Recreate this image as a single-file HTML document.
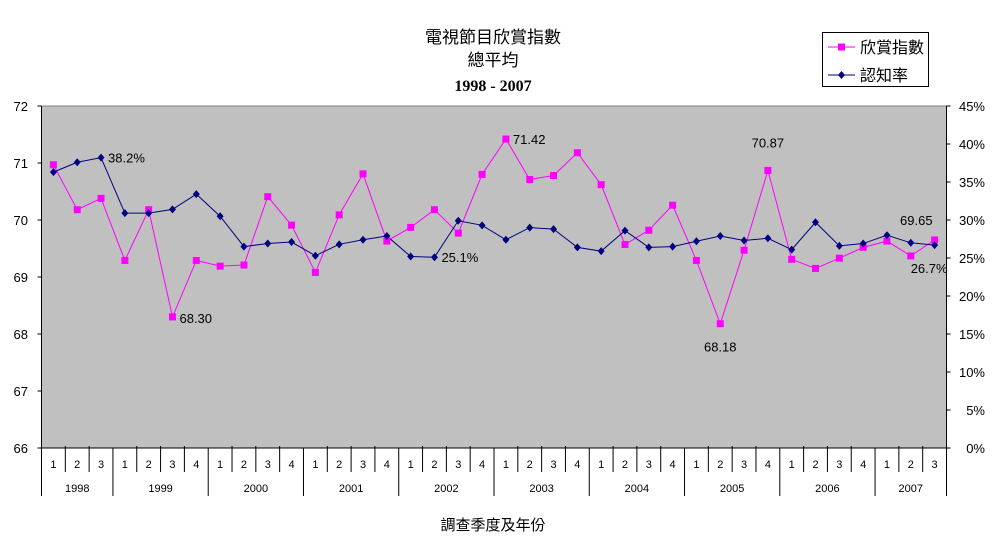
<!DOCTYPE html>
<html><head><meta charset="utf-8"><style>
body{margin:0;background:#fff;}
svg text{font-family:"Liberation Sans","Noto Sans CJK TC",sans-serif;}
</style></head><body>
<svg id="chart" width="993" height="553" xmlns="http://www.w3.org/2000/svg">
<text x="493" y="43" text-anchor="middle" font-size="17">電視節目欣賞指數</text>
<text x="493" y="66" text-anchor="middle" font-size="17">總平均</text>
<text x="493" y="91" text-anchor="middle" font-size="16" font-weight="bold" style="font-family:'Liberation Serif',serif">1998 - 2007</text>
<rect x="41.5" y="106" width="905" height="342" fill="#c0c0c0" stroke="#808080"/>
<g id="axes"></g>
<g id="series"></g>
<g>
<rect x="822.5" y="32.5" width="106" height="54" fill="#fff" stroke="#000"/>
<line x1="828" y1="47" x2="855" y2="47" stroke="#ff00ff"/><rect x="838" y="43.5" width="7" height="7" fill="#ff00ff"/>
<text x="860" y="53" font-size="16">欣賞指數</text>
<line x1="828" y1="75" x2="855" y2="75" stroke="#000080"/><path d="M841.5 71 L845 75 L841.5 79 L838 75Z" fill="#000080"/>
<text x="860" y="81" font-size="16">認知率</text>
</g>
<text x="493" y="530" text-anchor="middle" font-size="15">調查季度及年份</text>
</svg>
<script>
const years = ["1998","1999","2000","2001","2002","2003","2004","2005","2006","2007"];
const quartersPerYear = [3,4,4,4,4,4,4,4,4,3];
const appreciation = [70.97,70.18,70.38,69.29,70.18,68.30,69.29,69.19,69.21,70.41,69.91,69.08,70.09,70.81,69.63,69.87,70.18,69.77,70.80,71.42,70.71,70.78,71.18,70.62,69.57,69.82,70.26,69.29,68.18,69.47,70.87,69.31,69.15,69.33,69.52,69.63,69.37,69.65];
const awareness = [36.3,37.6,38.2,30.9,30.9,31.4,33.4,30.5,26.5,26.9,27.1,25.3,26.8,27.4,27.9,25.2,25.1,29.9,29.3,27.4,29.0,28.8,26.4,25.9,28.6,26.4,26.5,27.2,27.9,27.3,27.6,26.1,29.7,26.6,26.9,28.0,27.0,26.7];
const leftTicks = [66,67,68,69,70,71,72];
const rightTicks = [0,5,10,15,20,25,30,35,40,45];
const appLabels = {5:"68.30",19:"71.42",28:"68.18",30:"70.87",37:"69.65"};
const awLabels = {2:"38.2%",16:"25.1%",37:"26.7%"};

const NS="http://www.w3.org/2000/svg";
const L=41.5,R=946.5,T=106,B=448;
const n=appreciation.length, cw=(R-L)/n;
const xs=i=>L+cw*(i+0.5);
const yL=v=>B-(v-66)/6*(B-T);
const yR=v=>B-v/45*(B-T);
function mk(tag,attrs,parent){const e=document.createElementNS(NS,tag);for(const k in attrs)e.setAttribute(k,attrs[k]);parent.appendChild(e);return e;}
const ax=document.getElementById('axes'), se=document.getElementById('series');
leftTicks.forEach(v=>{const y=yL(v);
 mk('line',{x1:L-4,y1:y,x2:L,y2:y,stroke:'#000'},ax);
 const t=mk('text',{x:28,y:y+5,'text-anchor':'end','font-size':13},ax);t.textContent=v;
 
 });
rightTicks.forEach(v=>{const y=yR(v);
 mk('line',{x1:R,y1:y,x2:R+4,y2:y,stroke:'#000'},ax);
 const t=mk('text',{x:985,y:y+5,'text-anchor':'end','font-size':13},ax);t.textContent=v+'%';
 
 });
let idx=0;
years.forEach((yr,k)=>{const q=quartersPerYear[k];const x0=L+cw*idx;
 mk('line',{x1:x0,y1:B,x2:x0,y2:496,stroke:'#000'},ax);
 for(let j=0;j<q;j++){const xq=L+cw*(idx+j);
  if(j>0)mk('line',{x1:xq,y1:B-2,x2:xq,y2:472,stroke:'#000'},ax);
  const t=mk('text',{x:xq+cw/2,y:468,'text-anchor':'middle','font-size':11},ax);t.textContent=j+1;
  
  }
 const t=mk('text',{x:x0+cw*q/2,y:492,'text-anchor':'middle','font-size':11},ax);t.textContent=yr;
 
 
 idx+=q;});
mk('line',{x1:R,y1:B,x2:R,y2:496,stroke:'#000'},ax);
mk('line',{x1:L,y1:T,x2:L,y2:B,stroke:'#000'},ax);
mk('line',{x1:R,y1:T,x2:R,y2:B,stroke:'#000'},ax);
mk('line',{x1:L,y1:B,x2:R,y2:B,stroke:'#000'},ax);
const p1=mk('polyline',{points:appreciation.map((v,i)=>xs(i)+','+yL(v)).join(' '),fill:'none',stroke:'#ff00ff'},se);


const p2=mk('polyline',{points:awareness.map((v,i)=>xs(i)+','+yR(v)).join(' '),fill:'none',stroke:'#000080'},se);


appreciation.forEach((v,i)=>{const m=mk('rect',{x:xs(i)-3.5,y:yL(v)-3.5,width:7,height:7,fill:'#ff00ff'},se);
 
 });
awareness.forEach((v,i)=>{const x=xs(i),y=yR(v);const m=mk('path',{d:`M${x} ${y-4}L${x+3.5} ${y}L${x} ${y+4}L${x-3.5} ${y}Z`,fill:'#000080'},se);
 
 });
for(const i in appLabels){const x=xs(+i),y=yL(appreciation[i]);let tx=x+7,ty=y+6,anc='start';
 if(i==28){tx=x;ty=y+28;anc='middle';} if(i==30){tx=x;ty=y-23;anc='middle';} if(i==37){tx=x-2;ty=y-15;anc='end';} if(i==19){ty=y+5;}
 const t=mk('text',{x:tx,y:ty,'text-anchor':anc,'font-size':13},se);t.textContent=appLabels[i];
 
 }
for(const i in awLabels){const x=xs(+i),y=yR(awareness[i]);let tx=x+7,ty=y+5,anc='start';
 if(i==37){tx=x+13;ty=y+28;anc='end';}
 const t=mk('text',{x:tx,y:ty,'text-anchor':anc,'font-size':13},se);t.textContent=awLabels[i];
 
 }
</script>
</body></html>
